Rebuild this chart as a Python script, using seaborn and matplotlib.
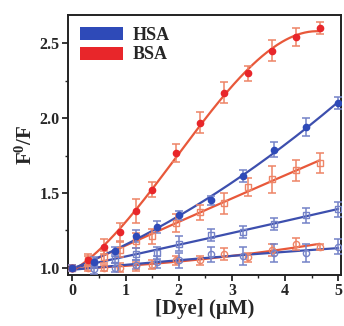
import numpy as np
import matplotlib
matplotlib.use("Agg")
import matplotlib.pyplot as plt
from matplotlib.patches import Patch
from matplotlib.ticker import MultipleLocator
import seaborn as sns

# data
x_hsa = [0, 0.4, 0.8, 1.2, 1.6, 2.0, 2.6, 3.2, 3.8, 4.4, 5.0]
hsa_filled = [1.00, 1.04, 1.11, 1.21, 1.27, 1.35, 1.45, 1.61, 1.79, 1.94, 2.10]
hsa_filled_err = [0.02, 0.03, 0.03, 0.04, 0.04, 0.03, 0.03, 0.04, 0.05, 0.06, 0.04]
hsa_square = [1.00, 1.03, 1.06, 1.09, 1.10, 1.16, 1.22, 1.24, 1.29, 1.35, 1.39]
hsa_square_err = [0.02, 0.03, 0.03, 0.04, 0.04, 0.05, 0.04, 0.04, 0.04, 0.05, 0.05]
hsa_circle = [1.00, 0.99, 1.00, 1.02, 1.04, 1.05, 1.09, 1.08, 1.10, 1.10, 1.14]
hsa_circle_err = [0.02, 0.03, 0.03, 0.03, 0.04, 0.05, 0.05, 0.06, 0.06, 0.06, 0.05]

x_bsa = [0, 0.3, 0.6, 0.9, 1.2, 1.5, 1.95, 2.4, 2.85, 3.3, 3.75, 4.2, 4.65]
bsa_filled = [1.00, 1.05, 1.14, 1.24, 1.38, 1.52, 1.77, 1.97, 2.17, 2.30, 2.45, 2.54, 2.60]
bsa_filled_err = [0.02, 0.04, 0.05, 0.06, 0.08, 0.05, 0.06, 0.07, 0.07, 0.05, 0.07, 0.06, 0.04]
bsa_square = [1.00, 1.05, 1.07, 1.12, 1.18, 1.21, 1.30, 1.37, 1.43, 1.54, 1.59, 1.65, 1.70]
bsa_square_err = [0.02, 0.03, 0.04, 0.05, 0.05, 0.05, 0.06, 0.05, 0.07, 0.06, 0.09, 0.07, 0.07]
bsa_circle = [1.00, 1.00, 1.00, 1.00, 1.01, 1.02, 1.05, 1.05, 1.09, 1.07, 1.12, 1.16, 1.14]
bsa_circle_err = [0.02, 0.02, 0.02, 0.03, 0.03, 0.03, 0.03, 0.03, 0.04, 0.03, 0.04, 0.04, 0.02]

blue_line = "#3D4FAE"
blue_mark = "#2E4AB8"
blue_err = "#7482C8"
red_line = "#E8583A"
red_mark = "#E8262A"
red_err = "#EE8466"

sns.set_style("ticks")
plt.rcParams["font.family"] = ["Liberation Serif", "DejaVu Serif"]
plt.rcParams["font.weight"] = "bold"
plt.rcParams["mathtext.fontset"] = "custom"
plt.rcParams["mathtext.rm"] = "Liberation Serif:bold"
plt.rcParams["mathtext.it"] = "Liberation Serif:bold"

fig = plt.figure(figsize=(3.44, 3.26), dpi=100)
ax = fig.add_axes([0.198, 0.156, 0.793, 0.798])


def draw(x, y, err, marker, filled, lc, mc, ec, deg):
    x = np.asarray(x)
    y = np.asarray(y)
    # smooth fitted curve through the points
    coef = np.polyfit(x, y, deg)
    xs = np.linspace(0, x.max(), 200)
    sns.lineplot(x=xs, y=np.polyval(coef, xs), color=lc, lw=1.6, ax=ax, zorder=2)
    ax.errorbar(x, y, yerr=err, fmt="none", ecolor=ec, elinewidth=1.1,
                capsize=3, capthick=1.1, zorder=3)
    ax.plot(x, y, ls="none", marker=marker, ms=4.5,
            mfc=mc if filled else "none", mec=mc if filled else ec,
            mew=1.0, zorder=4)


draw(x_bsa, bsa_circle, bsa_circle_err, "o", False, red_line, red_mark, red_err, 2)
draw(x_hsa, hsa_circle, hsa_circle_err, "o", False, blue_line, blue_mark, blue_err, 2)
draw(x_bsa, bsa_square, bsa_square_err, "s", False, red_line, red_mark, red_err, 2)
draw(x_hsa, hsa_square, hsa_square_err, "s", False, blue_line, blue_mark, blue_err, 2)
draw(x_bsa, bsa_filled, bsa_filled_err, "o", True, red_line, red_mark, red_err, 3)
draw(x_hsa, hsa_filled, hsa_filled_err, "o", True, blue_line, blue_mark, blue_err, 2)

ax.set_xlim(-0.08, 5.05)
ax.set_ylim(0.95, 2.69)
ax.xaxis.set_major_locator(MultipleLocator(1))
ax.xaxis.set_minor_locator(MultipleLocator(0.5))
ax.yaxis.set_major_locator(MultipleLocator(0.5))
ax.yaxis.set_minor_locator(MultipleLocator(0.25))
ax.yaxis.set_major_formatter(matplotlib.ticker.FormatStrFormatter("%.1f"))
ax.tick_params(which="major", length=4, width=1.3, labelsize=11.5, pad=2)
ax.tick_params(which="minor", length=2.5, width=1.0)
for lab in ax.get_xticklabels() + ax.get_yticklabels():
    lab.set_fontweight("bold")
for s in ax.spines.values():
    s.set_linewidth(1.4)
    s.set_color("#222222")

ax.set_xlabel("[Dye] (μM)", fontsize=15, fontweight="bold", labelpad=0)
ax.set_ylabel(r"F$^0$/F", fontsize=15, fontweight="bold", labelpad=2)

handles = [Patch(facecolor=blue_mark, edgecolor="none", label="HSA"),
           Patch(facecolor=red_mark, edgecolor="none", label="BSA")]
ax.legend(handles=handles, loc="upper left", frameon=False,
          prop={"family": "Liberation Serif", "weight": "bold", "size": 13},
          handlelength=2.4, handleheight=0.75, handletextpad=0.55,
          labelspacing=0.15, borderaxespad=0.25)

fig.savefig("out.png", dpi=100)
